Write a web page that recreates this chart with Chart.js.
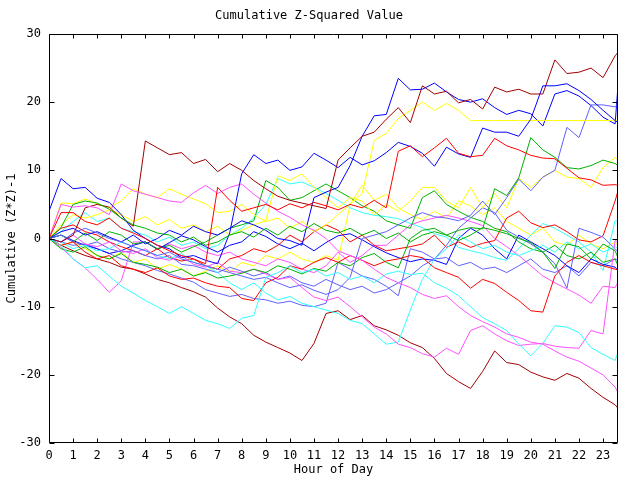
<!DOCTYPE html>
<html lang="en">
<head>
<meta charset="UTF-8">
<title>Cumulative Z-Squared Value</title>
<script src="https://cdn.jsdelivr.net/npm/chart.js"></script>
<style>
  body { margin: 0; background: #fff; }
</style>
</head>
<body>
<canvas id="zChart" width="640" height="480"></canvas>
<script>
// readings every half hour, last one at the end of the day window
const hours = [0, 0.5, 1, 1.5, 2, 2.5, 3, 3.5, 4, 4.5, 5, 5.5, 6, 6.5, 7, 7.5,
  8, 8.5, 9, 9.5, 10, 10.5, 11, 11.5, 12, 12.5, 13, 13.5, 14, 14.5, 15, 15.5,
  16, 16.5, 17, 17.5, 18, 18.5, 19, 19.5, 20, 20.5, 21, 21.5, 22, 22.5, 23, 23.5, 23.62];
const hourTicks = [0, 1, 2, 3, 4, 5, 6, 7, 8, 9, 10, 11, 12, 13, 14, 15, 16, 17, 18, 19, 20, 21, 22, 23];
const valueTicks = [-30, -20, -10, 0, 10, 20, 30];

// cumulative (z*z)-1 per run
const darkRed1 = [0, -0.5, 0.5, 4.5, 5, 4.6, 3, 1.8, 14.3, 13.3, 12.3, 12.6, 11, 11.6, 9.8, 11,
  10, 8.5, 7.3, 6.2, 5.6, 5.2, 4.8, 4.4, 11.5, 13.3, 15, 15.6, 17.5, 19.2, 17, 22.4,
  21.2, 21.6, 19.9, 20.4, 19, 22.2, 21.5, 21.9, 21.2, 21.2, 26.2, 24.2, 24.4, 25, 23.6, 26.8, 27.3];
const darkRed2 = [0, -1, -1.8, -2.5, -3, -3.5, -4.2, -4.5, -5.2, -6, -6.5, -7.2, -7.8, -8.6, -10.2, -11.5,
  -12.5, -14.2, -15.2, -16, -16.8, -17.9, -15.4, -11, -10.6, -11.9, -11.3, -12.8, -13.4, -14.2, -15.3, -16,
  -17.6, -19.8, -21, -22, -19.5, -16.5, -18.2, -18.5, -19.6, -20.3, -20.8, -19.8, -20.5, -22, -23.3, -24.4, -24.9];

const blue1 = [4, 8.8, 7.3, 7.5, 5.9, 5.3, 3.5, 1.2, 0, -1, -1.5, -2.8, -2.5, -3.2, -3.7, 0.8,
  9.5, 12.3, 11, 11.5, 10, 10.5, 12.5, 11.5, 10.4, 11.9, 10.8, 11.4, 12.6, 14.1, 13.5, 12.5,
  10.6, 13.4, 12.4, 11.9, 16.2, 15.6, 15.6, 15, 17.5, 22.4, 22.4, 22.7, 21.7, 20.4, 18.8, 17.3, 17];
const blue2 = [0, 1, 1.5, 0.5, 1, 0.2, -0.5, 0.5, -0.8, 0, 1.2, 0.5, 1.8, 1, 0.5, 1.5,
  2.6, 2, 1.2, 0, -0.3, -1, 6, 6.8, 7.5, 10.7, 15, 18, 18.2, 23.5, 21.8, 21.9,
  22.8, 21.5, 20.4, 20, 20.5, 19.2, 18.2, 18.8, 18.3, 16.5, 21.2, 21.7, 20.9, 19.5, 17.8, 16.8, 22.4];
const blue3 = [0, 0.5, -0.3, -1, -1.5, -2.2, -1.8, -1, -0.5, -1.6, -0.6, 0.4, -0.2, -1.2, -2, -1,
  -0.5, 1, 0.3, -0.8, -1.5, -0.7, -1.8, -0.6, 0.4, 0.7, -0.2, -1.2, -2.1, -2.8, -3.4, -3,
  -3.2, -3.8, 0, 1.5, 0.5, -1.5, -3, 0.5, -0.5, -1.5, -2.5, -4, -5, -3, -3.8, -4.2, -4.7];

const slate1 = [0, -0.5, 0.8, 1.5, 0.8, 0, -0.5, -1.2, -1.8, -2.5, -2, -3, -3.5, -4, -4.5, -5,
  -5.5, -6, -5.7, -6.5, -7.2, -6.8, -7.6, -8.2, -7.5, -5.7, 0, 0.5, 1, 2, 3, 3.8,
  3.2, 3, 2.6, 3.4, 5.5, 3.5, 6, 8.7, 7, 9, 10, 16.3, 14.8, 19.6, 19.6, 19.3, 19.8];
const slate2 = [0, 0.5, -0.5, -1, -0.5, -1.5, -2, -1.8, -2.5, -3, -2.5, -3.8, -4, -4.5, -5, -4.2,
  -4.8, -5.5, -5, -6, -5.5, -6.5, -7, -6, -6.8, -7.5, -7, -8, -7.5, -6.5, -5.5, -4,
  -3, -1, 1.5, 3, 4.5, 3.8, 1.2, 0.2, -0.8, -2, -3.7, -7.3, 1.5, 0.9, 0.2, -1.5, -2];
const slate3 = [0, -0.5, -1, -0.8, -1.5, -2.2, -3, -3.5, -4, -4.7, -5.2, -5.8, -6.4, -7.5, -8, -8.5,
  -8.2, -8.8, -9, -9.5, -9.2, -9.8, -10, -9.5, -3.5, -4.5, -5.5, -6, -7, -8.4, -1.5, -2,
  -3, -2.8, -4, -3.5, -4.5, -4.2, -5, -4, -3, -4.5, -5, -4, -5.5, -3.5, -4, -3, -3.2];

const magenta1 = [0, 5, 4.6, 4.8, 4.5, 3.5, 8, 7, 6.5, 6, 5.5, 5.3, 6.7, 7.8, 6.6, 7.5,
  8, 6.5, 5.2, 4, 3.1, 2, 1.2, 0, -1.8, -2.5, -3.2, -4.5, -5.7, -6.5, -7.2, -8.2,
  -8.8, -8.4, -10, -11.3, -12.2, -13, -14, -14.5, -15.2, -15.5, -16.5, -17.4, -18, -19, -20, -21.8, -22.6];
const magenta2 = [0, -0.5, 0.5, -0.8, -1.2, -0.5, -1.8, -2.2, -1.5, -2.8, -3.2, -2.5, -3.8, -4.2, -3.5, -4.8,
  -5, -4.5, -5.2, -6, -5.7, -7.2, -8.6, -9.1, -8.6, -10, -11.5, -13, -14, -15.5, -16, -16.9,
  -17.4, -16.1, -17, -13.5, -12.8, -14, -15, -15.7, -15.5, -15.4, -15.8, -16, -16.1, -13.5, -14, -0.3, -0.5];
const magenta3 = [0, -1.3, -3, -4.3, -6, -7.9, -6.2, -0.5, -0.5, -1.5, -0.8, -1.5, -1, -2, -2.5, -2,
  -3, -3.5, -4, -3, -3.5, -4.5, -5, -4, -2, -3.5, -2.5, -1, -1, 0.5, 2, 2.6,
  3, 3.4, 3, 2.5, 1.9, 0, -1.2, -2.5, -4, -5.5, -6.5, -7.4, -8.3, -9.5, -7, -7.2, -6.4];

const cyan1 = [0, -1, -3, -4.3, -4, -5.5, -7, -8, -9.1, -10, -11, -10, -11, -12, -12.5, -13.2,
  -11.7, -11.3, -5.7, -5, -4, -5, -4.5, -5.5, -5, -6, -5.5, -6.5, -5.2, -4.8, -5.3, -5.1,
  -6.5, -7.3, -8.4, -10, -11.6, -12.5, -13.5, -15.5, -17.2, -15.4, -12.8, -13, -13.8, -16, -17, -17.9, -16.7];
const cyan2 = [0, -0.5, -1.5, -1, -1.8, -1.5, -0.5, -1.2, -1.8, -2.5, -3, -2.2, -3.5, -4, -5, -6.5,
  -7.5, -6.5, -8, -9, -8.5, -9.5, -10, -10.5, -11, -12, -12.5, -14, -15.5, -15.2, -10.5, -6,
  -3, -1.5, 0.5, -0.5, -1.5, -1, -2, -2.5, -1.8, -1, -2, -0.5, -1.5, -0.8, -2, -1.2, -1.5];
const cyan3 = [0, 1, 2.5, 3.8, 2.5, 3, 1.5, 1, 0.5, -0.5, 0.2, -1, -0.5, -1.5, -1, 0.5,
  1.5, 3, 5, 8.8, 8, 8.3, 7.5, 6.6, 5.6, 4.5, 3.8, 3.4, 3.2, 2.9, 2.2, 1.6,
  0.7, 0.2, -1.3, -1.8, -2.2, -2.8, -3.2, -1.5, 0.5, 2.2, 1.5, 0.5, -0.5, -2, -4.7, 2.6, 2.6];

const green1 = [0, 1.6, 5, 5.5, 5.2, 4.3, 3, 2, 1.5, 0.8, 0.5, -0.5, 0.2, -1, -0.5, 0.5,
  1, 0.2, 1.5, 0.5, 1.8, 1, 2.2, 1.2, 0.8, 1.5, 0.5, 1.2, 0, 0.8, -0.5, 0.5,
  1, 0.5, 1.2, 1.6, 1.4, 7.3, 6.3, 8.9, 14.8, 13, 11.9, 10.4, 10.2, 10.7, 11.5, 11, 10.7];
const green2 = [0, -1.5, -2, -1.2, -2.5, -3, -2.2, -3.5, -3.8, -4.2, -5, -4.5, -5.5, -5, -5.8, -5.5,
  -5.1, -4.5, -5, -4, -4.5, -5.2, -4.4, -4.8, -3.5, -4, -2.8, -2.2, -3.5, -4.3, 0, 1.2,
  1.5, 0.5, -0.3, 0.5, 1.6, 1.2, 0.7, 0, -0.6, -2, -4.4, -0.8, -1.2, -3, -0.8, -1.8, -2.8];
const green3 = [0, 0.5, -0.5, 0.8, -0.3, 1, 0.5, -0.8, -0.5, -1.5, -1, -2, -1.2, -0.5, 0.5, 1.5,
  2, 2.6, 8.5, 7.5, 5.6, 6, 7, 8, 7, 6, 4.8, 4, 2.6, 2, 1.5, 6,
  7, 5, 4, 3.1, 2.5, 1.5, 1, -0.5, -1.5, -2, -1, -2.5, -3, -2, -3.5, -3, -4];

const red1 = [0, 3.8, 3.8, 2.5, 2, 3, 1.5, 0.8, 0, -1, -1.8, -2.5, -3, -3.7, 7.5, 5.6,
  4, 4.5, 5, 4.2, 5.1, 4.5, 5.3, 4.8, 4.2, 5, 4.5, 5.6, 4.5, 12.8, 13.6, 12,
  13.3, 14.7, 12.5, 12, 12.2, 14.7, 13.6, 13, 12.2, 11.8, 11.7, 10.3, 8.9, 8.6, 7.8, 7.9, 7.8];
const red2 = [0, -1, -0.5, -2, -3, -2.5, -4, -4.5, -5, -4.3, -5.5, -6, -5.8, -6.5, -7, -7.2,
  -8.8, -9.1, -6.5, -5.7, -4, -4.5, -3.5, -2.8, -3.5, -2.5, -3.2, -4, -3.3, -3, -2.5, -2.8,
  -4.3, -5, -5.7, -7.3, -6, -6.6, -7.9, -9.1, -10.6, -10.8, -5.5, -3.5, -2.5, -3.5, -4, -4.5, -4.6];
const red3 = [0, 1.5, 2, 1, 0.5, -0.5, -1.2, -1.8, -2.5, -1.5, -2.8, -3.3, -3, -4, -4.5, -3,
  -2.5, -1.5, -2, -1, 0.5, -0.5, 1, 2, 1.2, -0.5, 0.5, -1, -1.8, -1.5, -1.2, -0.8,
  0.5, -1.3, -0.5, -1.3, -0.7, -0.3, 3, 4, 2.3, 1.6, 2, 1, -0.2, -0.5, 0.4, 5.5, 7];

const yellow1 = [0, 5.2, 5.1, 5.8, 5.1, 4.5, 5.5, 7.3, 6.5, 6, 7.3, 6.5, 5.8, 5.1, 3.8, 4,
  5, 3.5, 2.5, 3, 1.5, 2.5, 1, 2, 3.5, 5, 6.6, 14.4, 15.4, 17.6, 18.8, 20,
  18.8, 19.8, 18.8, 17.3, 17.3, 17.3, 17.3, 17.3, 17.3, 17.3, 17.3, 17.3, 17.3, 17.3, 17.3, 17.3, 17.3];
const yellow2 = [0, 2, 3.5, 3, 3.5, 4.2, 3.5, 2.5, 3.2, 2, 2.8, 1.5, 2, 1, 1.8, 0.5,
  1.2, 2, 2.6, 9.2, 8.5, 9.5, 7.5, 6, 4.5, 6, 5.5, 3.5, 5, 4, 5.5, 7.5,
  7.5, 5.5, 4.5, 7.5, 4.5, 6.6, 4.5, 8.8, 7.5, 9, 10, 9, 8.8, 7.5, 10.4, 11.9, 11.5];
const yellow3 = [0, -1, -0.5, -1.5, -2.5, -3, -2, -3.5, -3, -4.5, -3.8, -4.5, -5.5, -4.8, -4, -5,
  -3.5, -4, -2.5, -3, -2, -3, -3.5, -2.5, -3.2, 5, 7.8, 5.6, 6.5, 4.5, 3.5, 2.8,
  4, 3, 5.5, 4.8, 3.5, 4.5, 2.5, 1.5, 0.5, 1.5, -0.5, -1, 0.5, -0.8, -1.5, -0.5, -1];

// line colours, gnuplot style
const series = [
  [red1, '#ff0000'], [green1, '#00b000'], [blue1, '#0000ff'], [magenta1, '#ff50ff'],
  [cyan1, '#30ffff'], [darkRed1, '#a00000'], [yellow1, '#ffff00'], [slate1, '#6060ff'],
  [red2, '#ff0000'], [green2, '#00b000'], [blue2, '#0000ff'], [magenta2, '#ff50ff'],
  [cyan2, '#30ffff'], [darkRed2, '#a00000'], [yellow2, '#ffff00'], [slate2, '#6060ff'],
  [red3, '#ff0000'], [green3, '#00b000'], [blue3, '#0000ff'], [magenta3, '#ff50ff'],
  [cyan3, '#30ffff'], [yellow3, '#ffff00'], [slate3, '#6060ff']
];

const mono = { family: "'DejaVu Sans Mono', monospace", size: 12, weight: 'normal' };

// box round the plot with inward ticks on all four sides
const frame = {
  id: 'frame',
  afterDraw(chart) {
    const { ctx, chartArea: a, scales: { x, y } } = chart;
    const L = Math.round(a.left) + 0.5, R = Math.round(a.right) - 0.5;
    const T = Math.round(a.top) + 0.5, B = Math.round(a.bottom) - 0.5;
    ctx.save();
    ctx.strokeStyle = '#000';
    ctx.lineWidth = 1;
    ctx.beginPath();
    ctx.rect(L, T, R - L, B - T);
    hourTicks.forEach(h => {
      const px = Math.round(x.getPixelForValue(h)) + 0.5;
      ctx.moveTo(px, B); ctx.lineTo(px, B - 4);
      ctx.moveTo(px, T); ctx.lineTo(px, T + 4);
    });
    valueTicks.forEach(v => {
      const py = Math.round(y.getPixelForValue(v)) + 0.5;
      ctx.moveTo(L, py); ctx.lineTo(L + 5, py);
      ctx.moveTo(R, py); ctx.lineTo(R - 5, py);
    });
    ctx.stroke();
    ctx.restore();
  }
};

new Chart(document.getElementById('zChart'), {
  type: 'line',
  data: {
    datasets: series.map(([vals, color]) => ({
      data: vals.map((v, i) => ({ x: hours[i], y: v })),
      borderColor: color,
      borderWidth: 1,
      pointRadius: 0,
      tension: 0,
      fill: false
    }))
  },
  options: {
    responsive: false,
    animation: false,
    layout: { padding: { right: 22 } },
    plugins: {
      legend: { display: false },
      tooltip: { enabled: false },
      title: {
        display: true,
        text: 'Cumulative Z-Squared Value',
        color: '#000',
        font: mono,
        padding: { top: 8.8, bottom: 10.8 }
      }
    },
    scales: {
      x: {
        type: 'linear',
        min: 0,
        max: 23.62,
        afterBuildTicks: s => { s.ticks = hourTicks.map(v => ({ value: v })); },
        afterFit: s => { s.height = 37; },
        grid: { display: false, drawTicks: false },
        border: { display: false },
        ticks: { color: '#000', font: mono, padding: 6, maxRotation: 0, autoSkip: false },
        title: { display: true, text: 'Hour of Day', color: '#000', font: mono, padding: { top: 0, bottom: 2.8 } }
      },
      y: {
        min: -30,
        max: 30,
        afterBuildTicks: s => { s.ticks = valueTicks.map(v => ({ value: v })); },
        afterFit: s => { s.width = 49; },
        grid: { display: false, drawTicks: false },
        border: { display: false },
        ticks: { color: '#000', font: mono, padding: 8 },
        title: { display: true, text: 'Cumulative (Z*Z)-1', color: '#000', font: mono, padding: { top: 4.8, bottom: 0 } }
      }
    }
  },
  plugins: [frame]
});
</script>
</body>
</html>
